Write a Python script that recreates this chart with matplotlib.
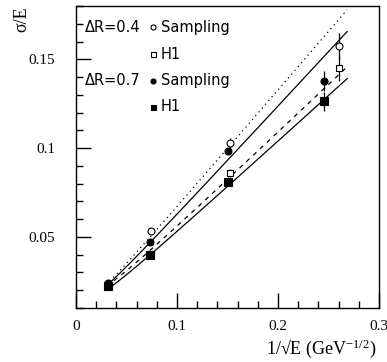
import numpy as np
import matplotlib
matplotlib.use("Agg")
import matplotlib.pyplot as plt
from matplotlib.ticker import MultipleLocator, FixedLocator, FixedFormatter

plt.rcParams['mathtext.fontset'] = 'custom'
plt.rcParams['mathtext.rm'] = 'Liberation Serif'
plt.rcParams['mathtext.it'] = 'Liberation Serif:italic'

# ---------------- data ----------------
# 1/sqrt(E) positions
x_r04 = [0.0316, 0.0740, 0.1520, 0.2607]
x_r07 = [0.0316, 0.0735, 0.1505, 0.2459]

# dR = 0.4
samp04 = [0.0235, 0.0533, 0.1026, 0.1575]
samp04_err = [0.0010, 0.0015, 0.0030, 0.0072]
h1_04 = [0.0226, 0.0406, 0.0860, 0.1449]
h1_04_err = [0.0010, 0.0012, 0.0020, 0.0072]

# dR = 0.7
samp07 = [0.0240, 0.0470, 0.0986, 0.1379]
samp07_err = [0.0008, 0.0010, 0.0015, 0.0056]
h1_07 = [0.0222, 0.0400, 0.0812, 0.1263]
h1_07_err = [0.0008, 0.0010, 0.0015, 0.0055]

# fits sigma/E = a/sqrt(E) (+) c  ->  (a, c)
fit_samp04 = (0.661, 0.0120)   # dotted
fit_samp07 = (0.615, 0.0128)   # solid
fit_h1_04 = (0.540, 0.0153)    # dashed
fit_h1_07 = (0.516, 0.0127)    # solid
fit_range = (0.030, 0.2685)

xticks = [0.0, 0.1, 0.2, 0.3]
xticklabels = ['0', '0.1', '0.2', '0.3']
yticks = [0.05, 0.10, 0.15]
yticklabels = ['0.05', '0.1', '0.15']

# ---------------- figure ----------------
fig = plt.figure(figsize=(3.87, 3.62), dpi=100)
ax = fig.add_axes([76/387, 1-308/362, 303/387, 302/362])
ax.set_xlim(0, 0.3)
ax.set_ylim(0.01, 0.18)

xf = np.linspace(fit_range[0], fit_range[1], 200)
def fitcurve(p):
    a, c = p
    return np.sqrt((a*xf)**2 + c**2)

lw = 0.9
ax.plot(xf, fitcurve(fit_samp04), color='black', lw=lw, linestyle=(0, (1, 3)))
ax.plot(xf, fitcurve(fit_samp07), color='black', lw=lw, linestyle='-')
ax.plot(xf, fitcurve(fit_h1_04), color='black', lw=lw, linestyle=(0, (3.5, 4)))
ax.plot(xf, fitcurve(fit_h1_07), color='black', lw=lw, linestyle='-')

ms = 5
mew = 0.8
ax.errorbar(x_r04, samp04, yerr=samp04_err, fmt='o', ms=ms, mfc='white', mec='black',
            mew=mew, ecolor='black', elinewidth=0.9, capsize=0, zorder=3)
ax.errorbar(x_r04, h1_04, yerr=h1_04_err, fmt='s', ms=ms, mfc='white', mec='black',
            mew=mew, ecolor='black', elinewidth=0.9, capsize=0, zorder=3)
ax.errorbar(x_r07, samp07, yerr=samp07_err, fmt='o', ms=ms, mfc='black', mec='black',
            mew=mew, ecolor='black', elinewidth=0.9, capsize=0, zorder=4)
ax.errorbar(x_r07, h1_07, yerr=h1_07_err, fmt='s', ms=ms+0.5, mfc='black', mec='black',
            mew=mew, ecolor='black', elinewidth=0.9, capsize=0, zorder=4)

# ticks
ax.xaxis.set_major_locator(FixedLocator(xticks))
ax.xaxis.set_major_formatter(FixedFormatter(xticklabels))
ax.xaxis.set_minor_locator(MultipleLocator(0.02))
ax.yaxis.set_major_locator(FixedLocator(yticks))
ax.yaxis.set_major_formatter(FixedFormatter(yticklabels))
ax.yaxis.set_minor_locator(MultipleLocator(0.01))
ax.tick_params(which='both', direction='in', top=False, right=False, width=1.0)
ax.tick_params(which='major', length=11)
ax.tick_params(which='minor', length=5)
ax.tick_params(axis='y', which='major', pad=15)
ax.tick_params(axis='x', which='major', pad=9)
for lab in ax.get_xticklabels() + ax.get_yticklabels():
    lab.set_fontfamily('Liberation Serif')
    lab.set_fontsize(11)
for s in ax.spines.values():
    s.set_linewidth(1.0)

# legend (manual)
fs = 10.5
rows = [0.929, 0.841, 0.753, 0.666]
ax.text(0.030, rows[0], '\u0394R=0.4', transform=ax.transAxes, fontsize=fs,
        va='center', ha='left', family='DejaVu Sans')
ax.text(0.030, rows[2], '\u0394R=0.7', transform=ax.transAxes, fontsize=fs,
        va='center', ha='left', family='DejaVu Sans')
labels = ['Sampling', 'H1', 'Sampling', 'H1']
markers = ['o', 's', 'o', 's']
fills = ['white', 'white', 'black', 'black']
for r, lab, m, f in zip(rows, labels, markers, fills):
    ax.plot([0.254], [r], marker=m, ms=3.6, mfc=f, mec='black', mew=0.8,
            transform=ax.transAxes, clip_on=False, linestyle='none')
    ax.text(0.280, r, lab, transform=ax.transAxes, fontsize=fs,
            va='center', ha='left', family='DejaVu Sans')

# axis labels
ax.text(-0.177, 1.0, '\u03c3/E', transform=ax.transAxes, rotation=90,
        ha='center', va='top', fontsize=13, family='Liberation Serif')
fig.text(376.7/387, 2/362, '1/\u221aE (GeV$^{\\mathrm{-1/2}}$)', ha='right', va='bottom',
         fontsize=13, family='Liberation Serif')

fig.savefig('out.png', dpi=100)
